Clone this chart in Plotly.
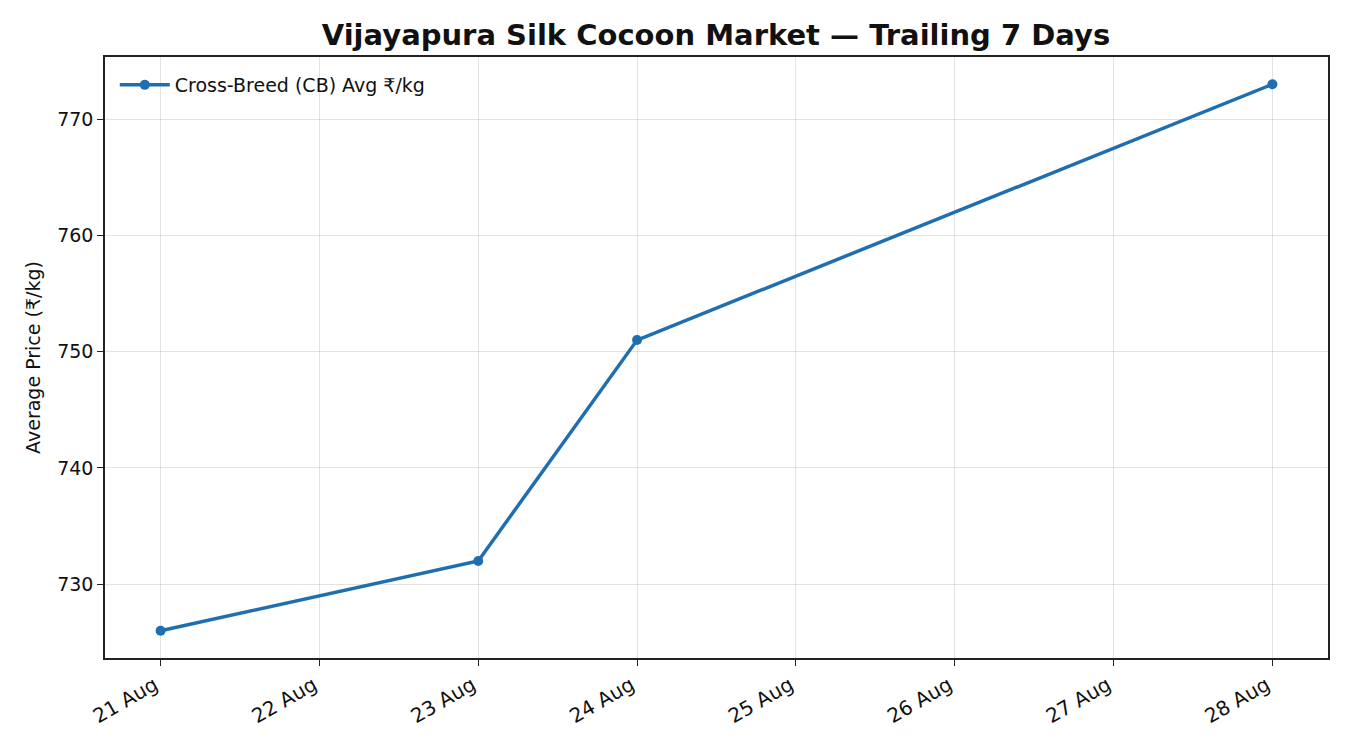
"""Vijayapura silk cocoon market, CB average price over the trailing 7 days."""

import plotly.graph_objects as go

# data
dates = ['2025-08-21', '2025-08-23', '2025-08-24', '2025-08-28']
cb_avg = [726, 732, 751, 773]
tick_days = ['2025-08-21', '2025-08-22', '2025-08-23', '2025-08-24',
             '2025-08-25', '2025-08-26', '2025-08-27', '2025-08-28']
tick_labels = ['21 Aug', '22 Aug', '23 Aug', '24 Aug',
               '25 Aug', '26 Aug', '27 Aug', '28 Aug']
y_ticks = [730, 740, 750, 760, 770]

BLUE = '#1f6fb0'
FONT = 'DejaVu Sans'

fig = go.Figure(go.Scatter(
    x=dates, y=cb_avg, mode='lines+markers',
    name='Cross-Breed (CB) Avg ₹/kg',
    line=dict(color=BLUE, width=3.5),
    marker=dict(color=BLUE, size=10),
))

axis = dict(
    showline=True, linecolor='#222', linewidth=1.5, mirror=True,
    ticks='outside', ticklen=6, tickcolor='#222',
    showgrid=True, gridcolor='rgba(0,0,0,0.11)', gridwidth=1,
    zeroline=False, tickfont=dict(size=19, family=FONT, color='#111'),
)

# the page body has an 8px margin, so the figure is a bit smaller than the window
fig.update_layout(
    width=1334, height=734,
    paper_bgcolor='white', plot_bgcolor='white',
    font=dict(family=FONT, color='#111'),
    margin=dict(l=97, r=14, t=49, b=84),
    title=dict(text='<b>Vijayapura Silk Cocoon Market — Trailing 7 Days</b>',
               x=0.5307, xanchor='center', y=0.963, yanchor='middle',
               font=dict(size=29, family=FONT)),
    xaxis=dict(axis, type='date', range=['2025-08-20 15:36', '2025-08-28 08:24'],
               tickvals=tick_days, ticktext=tick_labels, tickangle=-30,
               tickfont=dict(size=20, family=FONT, color='#111'),
               ticklabelshift=-6),
    yaxis=dict(axis, range=[723.65, 775.35], tickvals=y_ticks,
               title=dict(text='Average Price (₹/kg)', font=dict(size=19, family=FONT),
                          standoff=12)),
    legend=dict(x=0.008, y=0.985, xanchor='left', yanchor='top', itemwidth=50,
                bgcolor='rgba(0,0,0,0)', font=dict(size=19, family=FONT)),
    showlegend=True,
)

fig.write_html('out.html')
